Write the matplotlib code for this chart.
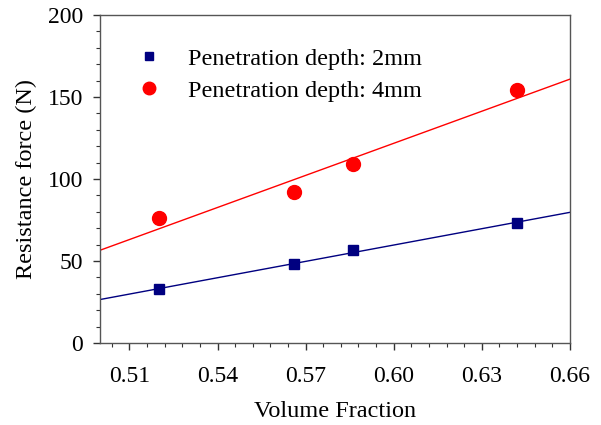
import numpy as np
import matplotlib

matplotlib.use("Agg")
import matplotlib.pyplot as plt  # noqa: E402
from matplotlib.ticker import AutoMinorLocator, MultipleLocator  # noqa: E402

plt.rcParams["font.family"] = ["Liberation Serif", "DejaVu Serif"]

volume_fraction = [0.52, 0.566, 0.586, 0.642]
force_2mm = [32.7, 48.0, 56.7, 73.0]
force_4mm = [76.0, 92.0, 109.0, 154.0]
labels = ["Penetration depth: 2mm", "Penetration depth: 4mm"]

X_MIN, X_MAX = 0.50, 0.66

fig = plt.figure(figsize=(6.01, 4.25), dpi=100)
ax = fig.add_axes([0.1664, 0.1929, 0.782, 0.7718])

xs = np.array([X_MIN, X_MAX])
for ys, color, marker, ms, label in [
    (force_2mm, "#000080", "s", 7, labels[0]),
    (force_4mm, "#ff0000", "o", 10, labels[1]),
]:
    # least-squares trend line across the full x range
    slope, icpt = np.polyfit(volume_fraction, ys, 1)
    ax.plot(xs, slope * xs + icpt, color=color, lw=1.0, zorder=2)
    ax.plot(volume_fraction, ys, ls="none", marker=marker, ms=ms,
            color=color, mec=color, label=label, zorder=3)

ax.set_xlim(X_MIN, X_MAX)
ax.set_ylim(0, 200)
ax.set_xticks([0.51, 0.54, 0.57, 0.60, 0.63, 0.66])
ax.xaxis.set_minor_locator(AutoMinorLocator(5))
ax.yaxis.set_major_locator(MultipleLocator(50))
ax.yaxis.set_minor_locator(MultipleLocator(10))
ax.xaxis.set_major_formatter(plt.FormatStrFormatter("%.2f"))

ax.tick_params(which="both", direction="out", top=False, right=False,
               labelsize=17, color="#333333")
ax.tick_params(which="major", length=5, width=1)
ax.tick_params(which="minor", length=3, width=0.8)
ax.tick_params(axis="y", which="major", pad=7)
ax.tick_params(axis="x", which="major", pad=11.5)
for sp in ax.spines.values():
    sp.set_color("#555555")
    sp.set_linewidth(1.0)

ax.set_xlabel("Volume Fraction", fontsize=17.5, labelpad=10)
ax.set_ylabel("Resistance force (N)", fontsize=17.5, labelpad=8)

leg = ax.legend(loc="upper left", frameon=False, fontsize=17.5,
                bbox_to_anchor=(0.0, 0.975), handletextpad=0.6,
                borderaxespad=0.6, labelspacing=0.42, markerscale=0.9)

fig.savefig("out.png", dpi=100)
